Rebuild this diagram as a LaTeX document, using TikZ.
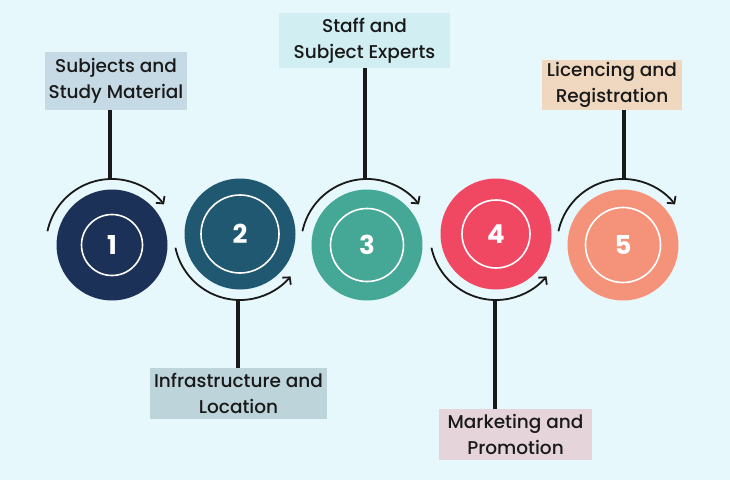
\documentclass[tikz,border=0pt]{standalone}
\usepackage{fontspec}
\setmainfont{Poppins}
\newfontfamily\tagfont{Poppins Medium}
\usetikzlibrary{arrows.meta}

\definecolor{bgsky}{HTML}{E7F8FD}
\definecolor{stepone}{HTML}{1C3157}
\definecolor{steptwo}{HTML}{1F5870}
\definecolor{stepthree}{HTML}{45A896}
\definecolor{stepfour}{HTML}{F04862}
\definecolor{stepfive}{HTML}{F5937A}
\definecolor{tagone}{HTML}{C6DAE6}
\definecolor{tagtwo}{HTML}{BCD4DA}
\definecolor{tagthree}{HTML}{D1EEF3}
\definecolor{tagfour}{HTML}{E5D5DA}
\definecolor{tagfive}{HTML}{EFD8BF}

\tikzset{
  disc/.style={circle, fill=#1, minimum size=111pt, inner sep=0pt},
  core/.style={circle, draw=white, line width=1.6pt, minimum size=#1, inner sep=0pt,
    text=white, font=\fontsize{26}{26}\selectfont\bfseries},
  tag/.style={fill=#1, align=center, inner sep=0pt, text=black!90,
    font=\fontsize{18.5}{26}\selectfont\tagfont},
  turn/.style={line width=1.8pt, black!90, -{Straight Barb[length=5pt,width=11pt]}},
  stem/.style={line width=4pt, black!90}
}

\begin{document}
\begin{tikzpicture}[x=1pt,y=1pt]
  % Background
  \fill[bgsky] (0,0) rectangle (730,480);
  % Circles
  \node[disc=stepone]   (c1) at (112,235) {};
  \node[disc=steptwo]   (c2) at (240,246) {};
  \node[disc=stepthree] (c3) at (367,235) {};
  \node[disc=stepfour]  (c4) at (496,246) {};
  \node[disc=stepfive]  (c5) at (623,235) {};
  \node[core=61pt] (n1) at (c1) {1};
  \node[core=78pt] (n2) at (c2) {2};
  \node[core=73pt] (n3) at (c3) {3};
  \node[core=68pt] (n4) at (c4) {4};
  \node[core=75pt] (n5) at (c5) {5};
  % Turning arrows
  \draw[turn] ([shift={(168:66pt)}]c1.center) arc (168:38:66pt);
  \draw[turn] ([shift={(192:66pt)}]c2.center) arc (192:320:66pt);
  \draw[turn] ([shift={(168:66pt)}]c3.center) arc (168:38:66pt);
  \draw[turn] ([shift={(192:66pt)}]c4.center) arc (192:320:66pt);
  \draw[turn] ([shift={(168:66pt)}]c5.center) arc (168:38:66pt);
  \coordinate (a1) at (110,300);
  \coordinate (a2) at (238,180);
  \coordinate (a3) at (365,300);
  \coordinate (a4) at (495,180);
  \coordinate (a5) at (624,300);
  % Labels
  \node[tag=tagone, minimum width=142pt, minimum height=58pt]   (l1) at (116,399) {Subjects and\\Study Material};
  \node[tag=tagtwo, minimum width=177pt, minimum height=51pt]   (l2) at (238.5,86.5) {Infrastructure and\\Location};
  \node[tag=tagthree, minimum width=171pt, minimum height=55pt] (l3) at (364.5,439.5) {Staff and\\Subject Experts};
  \node[tag=tagfour, minimum width=153pt, minimum height=51pt]  (l4) at (515.5,45.5) {Marketing and\\Promotion};
  \node[tag=tagfive, minimum width=140pt, minimum height=50pt]  (l5) at (612,395) {Licencing and\\Registration};
  % Stems
  \draw[stem] (a1) -- (a1 |- l1.south);
  \draw[stem] (a2) -- (a2 |- l2.north);
  \draw[stem] (a3) -- (a3 |- l3.south);
  \draw[stem] (a4) -- (a4 |- l4.north);
  \draw[stem] (a5) -- (a5 |- l5.south);
\end{tikzpicture}
\end{document}
